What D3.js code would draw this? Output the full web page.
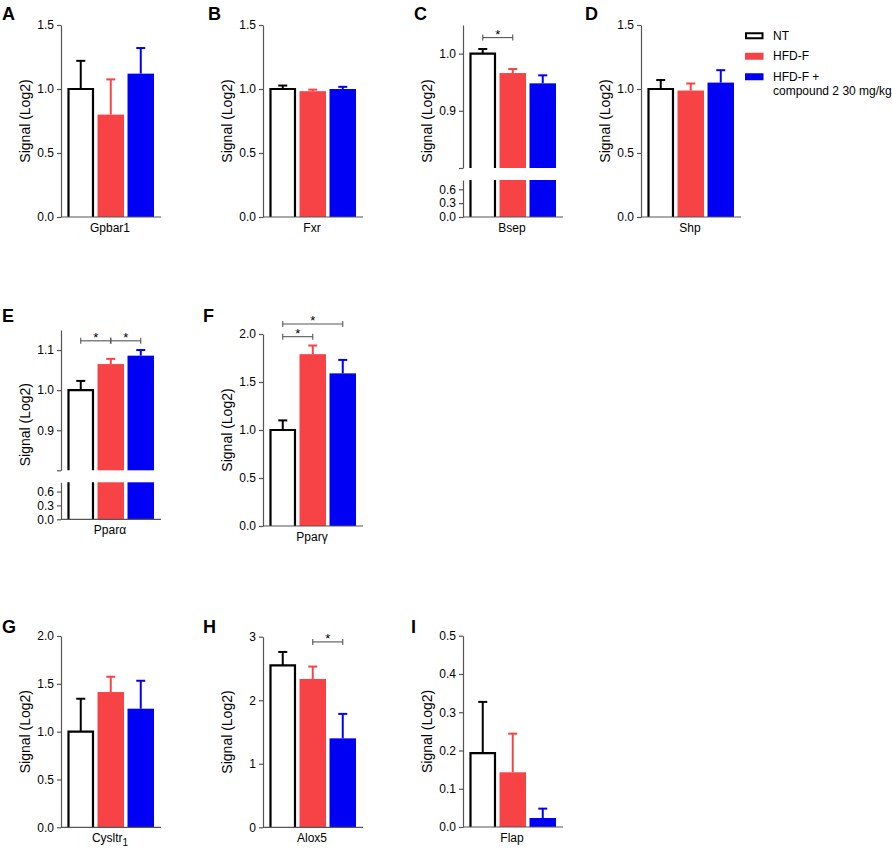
<!DOCTYPE html>
<html>
<head>
<meta charset="utf-8">
<script src="https://cdnjs.cloudflare.com/ajax/libs/d3/7.8.5/d3.min.js"></script>
<style>
body{margin:0;background:#fff;}
svg{display:block;font-family:"Liberation Sans",Arial,sans-serif;}
</style>
</head>
<body>
<svg id="chart" width="892" height="849"></svg>
<script>
const groups = ['NT', 'HFD-F', 'HFD-F + compound 2 30 mg/kg'];
const genes = ['Gpbar1', 'Fxr', 'Bsep', 'Shp', 'Pparα', 'Pparγ', 'Cysltr', 'Alox5', 'Flap'];
const letters = ['A', 'B', 'C', 'D', 'E', 'F', 'G', 'H', 'I'];

const meanNT  = [1.00, 1.00, 1.000, 1.00, 1.000, 1.00, 1.00, 2.55, 0.193];
const meanHFD = [0.80, 0.983, 0.966, 0.988, 1.065, 1.79, 1.414, 2.335, 0.143];
const meanCmp = [1.12, 1.00, 0.948, 1.05, 1.086, 1.59, 1.24, 1.40, 0.0235];
const semNT   = [0.22, 0.027, 0.008, 0.07, 0.023, 0.10, 0.344, 0.21, 0.134];
const semHFD  = [0.275, 0.012, 0.007, 0.055, 0.013, 0.09, 0.16, 0.195, 0.101];
const semCmp  = [0.20, 0.017, 0.014, 0.097, 0.014, 0.14, 0.292, 0.385, 0.0245];

const yMax = [1.5, 1.5, 1.05, 1.5, 1.15, 2.0, 2.0, 3, 0.5];
const yTicks = [
    [0, 0.5, 1.0, 1.5],
    [0, 0.5, 1.0, 1.5],
    [0.8, 0.9, 1.0],
    [0, 0.5, 1.0, 1.5],
    [0.8, 0.9, 1.0, 1.1],
    [0, 0.5, 1.0, 1.5, 2.0],
    [0, 0.5, 1.0, 1.5, 2.0],
    [0, 1, 2, 3],
    [0, 0.1, 0.2, 0.3, 0.4, 0.5]
];
const tickFmt = ['.1f', '.1f', '.1f', '.1f', '.1f', '.1f', '.1f', 'd', '.1f'];
// panels C and E have a broken y axis
const breakAt = [null, null, 0.8, null, 0.8, null, null, null, null];
const lowTicks = [0, 0.3, 0.6];

// significance brackets
const sigPanel = [2, 4, 4, 5, 5, 7];
const sigFrom  = [0, 0, 1, 0, 0, 1];
const sigTo    = [1, 1, 2, 1, 2, 2];
const sigY     = [1.028, 1.123, 1.123, 1.972, 2.104, 2.918];

const colors = ['#ffffff', '#f74346', '#0000f5'];
const strokes = ['#000000', '#f74346', '#0000f5'];
const axisCol = '#555555';

// panel placement (y axis x, plot top, plot bottom, letter x, letter baseline)
const layout = [
    {x: 61,  top: 25,    bot: 217,   lx: 2,   ly: 20},
    {x: 263, top: 25,    bot: 217,   lx: 208, ly: 20},
    {x: 463, top: 25,    bot: 217,   lx: 414, ly: 20},
    {x: 641, top: 25,    bot: 217,   lx: 585, ly: 20},
    {x: 61,  top: 330,   bot: 519.3, lx: 2,   ly: 322},
    {x: 263, top: 334,   bot: 526,   lx: 203, ly: 322},
    {x: 61,  top: 636,   bot: 827.3, lx: 2,   ly: 633},
    {x: 263, top: 636.7, bot: 827.3, lx: 203, ly: 633},
    {x: 463, top: 635.7, bot: 827,   lx: 411, ly: 633}
];

const svg = d3.select('#chart');

function styleAxis(g){
    g.select('.domain').attr('stroke', axisCol).attr('stroke-width', 1.2);
    g.selectAll('.tick line').attr('stroke', axisCol).attr('stroke-width', 1.2);
    g.selectAll('.tick text').attr('fill', '#000').style('font-size', '12px')
        .style('font-family', '"Liberation Sans",Arial,sans-serif');
}

function drawPanel(i){
    let L = layout[i];
    let g = svg.append('g');

    let x = d3.scaleBand().domain(groups)
        .range([L.x + 6.5, L.x + 93])
        .paddingInner(0.117).paddingOuter(0);

    let means = [meanNT[i], meanHFD[i], meanCmp[i]];
    let sems = [semNT[i], semHFD[i], semCmp[i]];

    let y, yLow = null;
    let upBot = L.bot;
    if(breakAt[i] != null){
        upBot = L.bot - 49;
        y = d3.scaleLinear().domain([breakAt[i], yMax[i]]).range([upBot, L.top]);
        yLow = d3.scaleLinear().domain([0, breakAt[i]]).range([L.bot, L.bot - 37]);
    } else {
        y = d3.scaleLinear().domain([0, yMax[i]]).range([L.bot, L.top]);
    }

    let data = groups.map((k, j) => ({k: k, j: j, m: means[j], e: sems[j]}));

    // bars (upper / single segment)
    let bars = g.selectAll('g.bar').data(data).join('g').attr('class', 'bar');
    bars.append('rect')
        .attr('x', d => x(d.k))
        .attr('width', x.bandwidth())
        .attr('y', d => y(d.m))
        .attr('height', d => upBot - y(d.m))
        .attr('fill', d => colors[d.j]);
    bars.filter(d => d.j == 0).append('path')
        .attr('d', d => 'M' + (x(d.k) + 1) + ',' + upBot + 'V' + (y(d.m)) + 'H' + (x(d.k) + x.bandwidth() - 1) + 'V' + upBot)
        .attr('fill', 'none').attr('stroke', '#000').attr('stroke-width', 2.2);

    // error bars
    let err = g.selectAll('g.err').data(data).join('g').attr('class', 'err')
        .attr('stroke', d => strokes[d.j]).attr('stroke-width', 2);
    err.append('line')
        .attr('x1', d => x(d.k) + x.bandwidth() / 2).attr('x2', d => x(d.k) + x.bandwidth() / 2)
        .attr('y1', d => y(d.m)).attr('y2', d => y(d.m + d.e));
    err.append('line')
        .attr('x1', d => x(d.k) + x.bandwidth() / 2 - 4.5).attr('x2', d => x(d.k) + x.bandwidth() / 2 + 4.5)
        .attr('y1', d => y(d.m + d.e)).attr('y2', d => y(d.m + d.e));

    // lower segment of broken axis
    if(yLow){
        let low = g.selectAll('g.low').data(data).join('g').attr('class', 'low');
        low.append('rect')
            .attr('x', d => x(d.k))
            .attr('width', x.bandwidth())
            .attr('y', yLow(breakAt[i]))
            .attr('height', L.bot - yLow(breakAt[i]))
            .attr('fill', d => colors[d.j]);
        low.filter(d => d.j == 0).append('path')
            .attr('d', d => 'M' + (x(d.k) + 1) + ',' + yLow(breakAt[i]) + 'V' + L.bot +
                'M' + (x(d.k) + x.bandwidth() - 1) + ',' + yLow(breakAt[i]) + 'V' + L.bot)
            .attr('fill', 'none').attr('stroke', '#000').attr('stroke-width', 2.2);

        let ax2 = g.append('g').attr('transform', 'translate(' + L.x + ',0)')
            .call(d3.axisLeft(yLow).tickValues(lowTicks).tickSize(4).tickPadding(3).tickSizeOuter(0).tickFormat(d3.format('.1f')));
        styleAxis(ax2);
    }

    let fmt = d3.format(tickFmt[i]);
    let ax = g.append('g').attr('transform', 'translate(' + L.x + ',0)')
        .call(d3.axisLeft(y).tickValues(yTicks[i]).tickSize(4).tickPadding(3).tickSizeOuter(0)
            .tickFormat(d => (breakAt[i] != null && d == breakAt[i]) ? '' : fmt(d)));
    styleAxis(ax);

    // x axis line
    g.append('line')
        .attr('x1', L.x).attr('x2', L.x + 100)
        .attr('y1', L.bot).attr('y2', L.bot)
        .attr('stroke', axisCol).attr('stroke-width', 1.2);

    // x label
    let xl = g.append('text')
        .attr('x', L.x + 49).attr('y', L.bot + 15)
        .attr('text-anchor', 'middle')
        .style('font-size', '12px')
        .text(genes[i]);
    if(genes[i] == 'Cysltr'){
        xl.append('tspan').attr('dy', 4).style('font-size', '10px').text('1');
    }

    // y label
    g.append('text')
        .attr('transform', 'translate(' + (L.x - 36) + ',' + ((L.top + L.bot) / 2) + ') rotate(-90)')
        .attr('text-anchor', 'middle')
        .attr('dy', '0.35em')
        .style('font-size', '14px')
        .text('Signal (Log2)');

    // panel letter
    g.append('text')
        .attr('x', L.lx).attr('y', L.ly)
        .style('font-size', '18px')
        .style('font-weight', 'bold')
        .text(letters[i]);

    // significance brackets
    sigPanel.forEach((p, s) => {
        if(p != i) return;
        let x1 = x(groups[sigFrom[s]]) + x.bandwidth() / 2;
        let x2 = x(groups[sigTo[s]]) + x.bandwidth() / 2;
        let yy = y(sigY[s]);
        let b = g.append('g').attr('stroke', '#555').attr('stroke-width', 1.1);
        b.append('line').attr('x1', x1).attr('x2', x2).attr('y1', yy).attr('y2', yy);
        b.append('line').attr('x1', x1).attr('x2', x1).attr('y1', yy - 3).attr('y2', yy + 3);
        b.append('line').attr('x1', x2).attr('x2', x2).attr('y1', yy - 3).attr('y2', yy + 3);
        g.append('text')
            .attr('x', (x1 + x2) / 2).attr('y', yy + 1)
            .attr('text-anchor', 'middle')
            .style('font-size', '13px')
            .text('*');
    });
}

for(let i = 0; i < genes.length; i++){
    drawPanel(i);
}

// legend
let legendY = d3.scaleBand().domain(groups).range([25.5, 87]);
let leg = svg.append('g').selectAll('g').data(groups).join('g')
    .attr('transform', d => 'translate(745,' + (legendY(d) + legendY.bandwidth() / 2) + ')');
leg.append('rect')
    .attr('x', (d, j) => j == 0 ? 1 : 0)
    .attr('y', (d, j) => j == 0 ? -2.5 : -3.5)
    .attr('width', (d, j) => j == 0 ? 16.5 : 18.5)
    .attr('height', (d, j) => j == 0 ? 5 : 7)
    .attr('fill', (d, j) => colors[j])
    .attr('stroke', (d, j) => j == 0 ? '#000' : 'none')
    .attr('stroke-width', 2);
leg.append('text')
    .attr('x', 28).attr('dy', '0.35em')
    .style('font-size', '12px')
    .each(function(d){
        let parts = d.split(' + ');
        let t = d3.select(this);
        if(parts.length > 1){
            t.append('tspan').attr('x', 28).text(parts[0] + ' +');
            t.append('tspan').attr('x', 28).attr('dy', 14).text(parts[1]);
        } else {
            t.text(d);
        }
    });
</script>
</body>
</html>
